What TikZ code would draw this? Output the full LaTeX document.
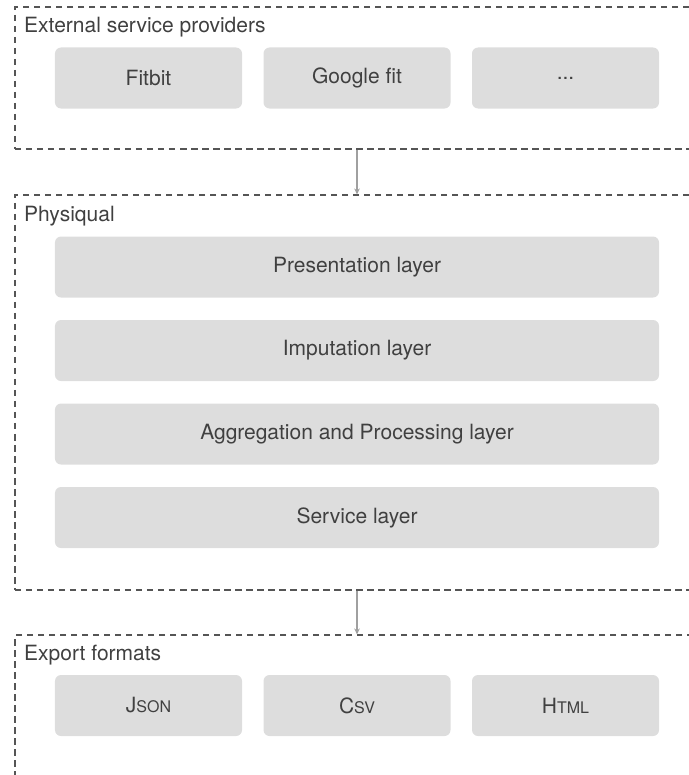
\documentclass[tikz,border=0pt]{standalone}
\usepackage{fontspec}
\setmainfont{TeX Gyre Heros}
\usetikzlibrary{arrows.meta}
\definecolor{boxfill}{HTML}{DDDDDD}
\definecolor{txt}{HTML}{404040}
\definecolor{dashc}{HTML}{555555}
\definecolor{arr}{HTML}{A0A0A0}
\newcommand{\fakesc}[2]{#1{\fontsize{16bp}{17bp}\selectfont #2}}
\tikzset{
  frame/.style={draw=dashc, dash pattern=on 6.5bp off 4.5bp, line width=1.1bp, inner sep=0pt, minimum width=684bp},
  layerbox/.style={fill=boxfill, rounded corners=6bp, inner sep=0pt, minimum height=61bp, text=txt, font=\fontsize{21bp}{25bp}\selectfont},
  smallbox/.style={layerbox, minimum width=187bp},
  widebox/.style={layerbox, minimum width=604bp},
  title/.style={anchor=west, inner sep=0pt, text=txt, font=\fontsize{21bp}{25bp}\selectfont},
  flow/.style={draw=arr, line width=1.2bp, -{Stealth[length=6bp,width=5.5bp]}}
}
\begin{document}
\begin{tikzpicture}[x=1bp,y=-1bp]
\useasboundingbox (0,0) rectangle (689,775);
\clip (0,0) rectangle (689,775);
% frames
\node[frame, minimum height=142bp] (f1) at (357,78) {};
\node[frame, minimum height=395bp] (f2) at (357,392.5) {};
\node[frame, minimum height=190bp] (f3) at (357,730) {};
% titles
\node[title] (t1) at (24,27) {External service providers};
\node[title] (t2) at (24,216) {Physiqual};
\node[title] (t3) at (24,655) {Export formats};
% providers
\node[smallbox] (fitbit) at (148.5,78) {Fitbit};
\node[smallbox] (gfit) at (357,78) {Google fit};
\node[smallbox] (more) at (565.5,78) {...};
% layers
\node[widebox] (pres) at (357,267) {Presentation layer};
\node[widebox] (imp) at (357,350.5) {Imputation layer};
\node[widebox] (agg) at (357,434) {Aggregation and Processing layer};
\node[widebox] (serv) at (357,517.5) {Service layer};
% export
\node[smallbox] (json) at (148.5,705.5) {\fakesc{J}{SON}};
\node[smallbox] (csv) at (357,705.5) {\fakesc{C}{SV}};
\node[smallbox] (html) at (565.5,705.5) {\fakesc{H}{TML}};
% connectors
\draw[flow] (f1.south) -- (f2.north);
\draw[flow] (f2.south) -- (f3.north);
\end{tikzpicture}
\end{document}
